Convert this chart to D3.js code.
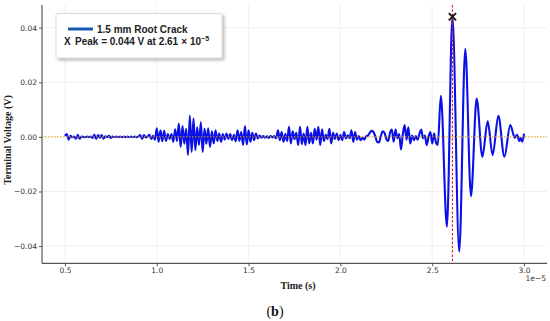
<!DOCTYPE html>
<html>
<head>
<meta charset="utf-8">
<script src="https://cdn.jsdelivr.net/npm/d3@7"></script>
<style>
  html, body { margin: 0; padding: 0; background: #fff; }
  svg { display: block; }
  .tick text { font-family: "DejaVu Sans", sans-serif; font-size: 7.5px; fill: #333; }
  .tick line { stroke: #555; }
  .lbl { font-family: "Liberation Serif", "DejaVu Serif", serif; font-weight: bold; font-size: 10px; fill: #222; }
  .leg { font-family: "Liberation Sans", Arial, sans-serif; font-weight: bold; font-size: 10px; fill: #222; }
</style>
</head>
<body>
<svg id="chart" width="550" height="321"></svg>
<script>
// time in units of 1e-5 s, voltage in mV
const denseStart = 0.50;
const denseStep = 0.01;
const denseMv = [
  0.4, 1.0, -1.0, 0.4, -0.1, 0.1, -0.7, 0.8, -0.7, 0.1,
  0.0, -0.1, 0.1, -0.1, 0.1, -0.4, 0.8, -0.8, 0.7, -0.4,
  0.7, -0.7, 0.2, -0.1, 0.4, -0.4, 0.1, -0.1, 0.1, -0.1,
  0.1, -0.1, 0.1, -0.1, 0.1, -0.1, 0.1, -0.1, 0.1, -0.1,
  0.1, 0.7, -0.8, 0.7, -0.2, 0.1, 0.8, -0.8, 0.4, -1.0,
  3.1, -1.8, 2.4, -1.6, 2.2, -1.5, 1.0, -0.8, 1.0, -1.8,
  2.8, -1.5, 4.9, -3.7, 4.0, -2.5, 3.0, -6.7, 7.7, -5.5,
  6.7, -4.9, 3.5, -3.0, 5.3, -5.5, 3.0, -2.5, 3.1, -3.7,
  2.0, -2.4, 2.4, -1.5, 1.2, -1.8, 1.0, -1.0, 1.2, -0.8,
  1.0, -1.2, 0.8, -1.6, 2.4, -1.5, 1.8, -3.0, 4.0, -2.8,
  2.4, -1.8, 1.5, -1.2, 1.2, -0.6, 0.5, -0.3, 0.3, -0.3,
  0.2, -0.4, 0.3, -0.2, 0.3, -0.5, 2.4, -1.2, 1.8, -1.8,
  1.0, -1.5, 3.7, -2.4, 2.0, -0.8, 1.5, -3.0, 3.7, -2.6,
  1.2, -3.0, 3.7, -2.4, 1.5, -2.4, 3.0, -1.0, 3.7, -3.0,
  2.8, -1.5, 0.8, -0.8, 3.0, -2.4, 1.5, -0.8, 1.2, -1.2,
  0.8, -1.2, 1.8, -0.6, 0.6, -0.5, 2.4, -1.8, 1.8, -1.0,
  0.3, -1.2, -0.3, -1.0, 0.2, 0.5, 1.5, 2.2, 1.8, 0.2,
  -1.8, -2.0, 0.2, 2.0, 1.5, -0.8, -1.5, 1.5, 2.7, -1.8,
  2.7, -0.5, 1.0, -4.6, 1.0, 4.3, -1.0, 3.5, -2.4, 0.5,
  -1.2, 0.3, -1.0, 1.0, 2.7, -0.5, 0.5, -3.0, 0.0, 1.8,
  -2.4, 1.2, -2.0, -3.0
];

// main burst: peaks and troughs
const burstTime = [2.547, 2.580, 2.610, 2.647, 2.680, 2.711, 2.742, 2.773, 2.802, 2.829,
                   2.860, 2.893, 2.925, 2.950, 2.962, 2.974, 2.982, 2.990, 3.000];
const burstMv   = [15.0, -32.9, 44.0, -42.0, 32.3, -21.7, 14.0, -7.3, 5.7, -6.7,
                   7.7, -7.3, 4.3, -0.3, 0.8, -1.5, -0.4, -1.8, 1.2];

const peakTime = 2.61;
const peakMv = 44.0;

const xTicks = [0.5, 1.0, 1.5, 2.0, 2.5, 3.0];
const yTicks = [-40, -20, 0, 20, 40];

const M = { left: 42, right: 547, top: 5, bottom: 263.3 };

const svg = d3.select('#chart');

// build series
const signal = denseMv.map((v, i) => ({ t: denseStart + i * denseStep, v: v }))
  .concat(burstTime.map((t, i) => ({ t: t, v: burstMv[i] })));

const tMin = d3.min(signal, d => d.t), tMax = d3.max(signal, d => d.t);
const vMin = d3.min(signal, d => d.v), vMax = d3.max(signal, d => d.v);
const tPad = (tMax - tMin) * 0.05, vPad = (vMax - vMin) * 0.05;

const x = d3.scaleLinear().domain([tMin - tPad, tMax + tPad]).range([M.left, M.right]);
const y = d3.scaleLinear().domain([vMin - vPad, vMax + vPad]).range([M.bottom, M.top]);

// grid
const grid = svg.append('g').attr('class', 'grid');
grid.selectAll('line.gx').data(xTicks).join('line')
  .attr('x1', d => x(d)).attr('x2', d => x(d))
  .attr('y1', M.top).attr('y2', M.bottom)
  .attr('stroke', '#ececec').attr('stroke-width', 0.8);
grid.selectAll('line.gy').data(yTicks).join('line')
  .attr('x1', M.left).attr('x2', M.right)
  .attr('y1', d => y(d)).attr('y2', d => y(d))
  .attr('stroke', '#ececec').attr('stroke-width', 0.8);

// signal
const line = d3.line().x(d => x(d.t)).y(d => y(d.v)).curve(d3.curveMonotoneX);
svg.append('path')
  .datum(signal)
  .attr('d', line)
  .attr('fill', 'none')
  .attr('stroke', '#0a10e6')
  .attr('stroke-width', 2.1)
  .attr('stroke-linejoin', 'round');

// zero reference and peak position
svg.append('line')
  .attr('x1', M.left).attr('x2', M.right)
  .attr('y1', y(0)).attr('y2', y(0))
  .attr('stroke', '#e8a317').attr('stroke-width', 1)
  .attr('stroke-dasharray', '1.5,1.5');
svg.append('line')
  .attr('x1', x(peakTime)).attr('x2', x(peakTime))
  .attr('y1', M.top).attr('y2', M.bottom)
  .attr('stroke', '#e02020').attr('stroke-width', 1.1)
  .attr('stroke-dasharray', '2.5,1.8');

// peak marker
const pm = svg.append('g').attr('transform', `translate(${x(peakTime)},${y(peakMv)})`);
pm.append('path')
  .attr('d', 'M-3.6,-3.6L3.6,3.6M-3.6,3.6L3.6,-3.6')
  .attr('stroke', '#1a1a1a').attr('stroke-width', 2);

// axes
const fmtY = d => (d / 1000).toFixed(2).replace('-', '\u2212');
const xAxis = svg.append('g')
  .attr('transform', `translate(0,${M.bottom})`)
  .call(d3.axisBottom(x).tickValues(xTicks).tickFormat(d3.format('.1f')).tickSize(3).tickPadding(1.5));
const yAxis = svg.append('g')
  .attr('transform', `translate(${M.left},0)`)
  .call(d3.axisLeft(y).tickValues(yTicks).tickFormat(fmtY).tickSize(3).tickPadding(2));
[xAxis, yAxis].forEach(a => a.select('.domain').remove());

svg.append('line')
  .attr('x1', M.left).attr('x2', M.left).attr('y1', M.top).attr('y2', M.bottom)
  .attr('stroke', '#555').attr('stroke-width', 1.2);
svg.append('line')
  .attr('x1', M.left).attr('x2', M.right).attr('y1', M.bottom).attr('y2', M.bottom)
  .attr('stroke', '#555').attr('stroke-width', 1.2);

// offset text
svg.append('text')
  .attr('x', 546).attr('y', 281)
  .attr('text-anchor', 'end')
  .style('font-family', '"DejaVu Sans", sans-serif').style('font-size', '7.5px').style('fill', '#333')
  .text('1e\u22125');

// axis labels
svg.append('text').attr('class', 'lbl')
  .attr('x', 298).attr('y', 289).attr('text-anchor', 'middle')
  .text('Time (s)');
svg.append('text').attr('class', 'lbl')
  .attr('transform', 'translate(11,140) rotate(-90)')
  .attr('text-anchor', 'middle')
  .text('Terminal Voltage (V)');

// panel label
const pl = svg.append('text')
  .attr('x', 275).attr('y', 316).attr('text-anchor', 'middle')
  .style('font-family', '"Liberation Serif", serif').style('font-size', '14px').style('fill', '#111');
pl.append('tspan').text('(');
pl.append('tspan').style('font-weight', 'bold').text('b');
pl.append('tspan').text(')');

// legend
const defs = svg.append('defs');
const f = defs.append('filter').attr('id', 'shadow').attr('x', '-10%').attr('y', '-10%').attr('width', '130%').attr('height', '140%');
f.append('feDropShadow').attr('dx', 2).attr('dy', 2).attr('stdDeviation', 1.4)
  .attr('flood-color', '#000').attr('flood-opacity', 0.28);

const leg = svg.append('g');
leg.append('rect')
  .attr('x', 56).attr('y', 13.5).attr('width', 166).attr('height', 44.5)
  .attr('rx', 1.5)
  .attr('fill', '#fff').attr('stroke', '#d0d0d0').attr('stroke-width', 0.8)
  .attr('filter', 'url(#shadow)');
leg.append('line')
  .attr('x1', 68).attr('x2', 93).attr('y1', 29).attr('y2', 29)
  .attr('stroke', '#1658b0').attr('stroke-width', 3);
leg.append('text').attr('class', 'leg').attr('x', 97).attr('y', 32.6).text('1.5 mm Root Crack');
leg.append('text').attr('class', 'leg').attr('x', 64).attr('y', 45.3).text('X');
const lt = leg.append('text').attr('class', 'leg').attr('x', 75).attr('y', 45.3);
lt.append('tspan').text('Peak = 0.044 V at 2.61');
lt.append('tspan').attr('dx', 3).text('\u00d7');
lt.append('tspan').attr('dx', 3).text('10');
lt.append('tspan').attr('dy', -4).style('font-size', '7px').text('\u22125');
</script>
</body>
</html>
